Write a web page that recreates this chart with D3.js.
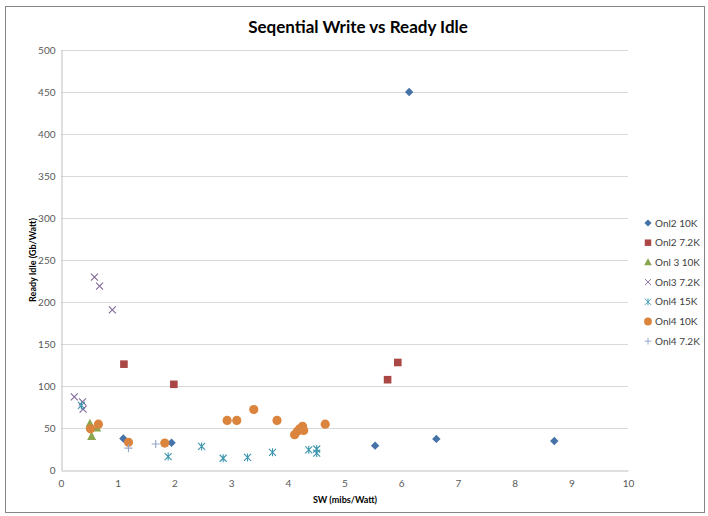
<!DOCTYPE html>
<html>
<head>
<meta charset="utf-8">
<script src="https://cdn.jsdelivr.net/npm/d3@7"></script>
<style>
  body { margin: 0; background: #fff; }
  text { font-family: Lato, "Open Sans", sans-serif; }
</style>
</head>
<body>
<div id="chart"></div>
<script>
// series values
var onl2_10k_x = [1.10, 1.95, 5.54, 6.14, 6.62, 8.70];
var onl2_10k_y = [37.5, 32.5, 29, 450, 37, 34.5];

var onl2_72k_x = [1.11, 1.99, 5.76, 5.94];
var onl2_72k_y = [126, 102, 107.5, 128];

var onl3_10k_x = [0.51, 0.54, 0.63];
var onl3_10k_y = [55, 40, 50];

var onl3_72k_x = [0.235, 0.38, 0.39, 0.59, 0.68, 0.905];
var onl3_72k_y = [87, 81, 72.5, 229.5, 219, 190.5];

var onl4_15k_x = [0.36, 1.89, 2.48, 2.86, 3.29, 3.73, 4.37, 4.51, 4.51];
var onl4_15k_y = [77, 16, 28, 14, 15, 21, 24, 25, 20];

var onl4_10k_x = [0.52, 0.66, 1.19, 1.83, 2.93, 3.10, 3.40, 3.81, 4.12, 4.17, 4.21, 4.26, 4.28, 4.66];
var onl4_10k_y = [49, 54.5, 33, 32, 59, 59, 72, 59, 42, 46, 49, 52, 47, 54.5];

var onl4_72k_x = [1.19, 1.67];
var onl4_72k_y = [26, 31];

var seriesNames = ["Onl2 10K", "Onl2 7.2K", "Onl 3 10K", "Onl3 7.2K", "Onl4 15K", "Onl4 10K", "Onl4 7.2K"];
var xTicks = [0, 1, 2, 3, 4, 5, 6, 7, 8, 9, 10];
var yTicks = [0, 50, 100, 150, 200, 250, 300, 350, 400, 450, 500];

var series = [
  {name: seriesNames[0], xs: onl2_10k_x, ys: onl2_10k_y, shape: "diamond", color: "#4572a7"},
  {name: seriesNames[1], xs: onl2_72k_x, ys: onl2_72k_y, shape: "square", color: "#aa4643"},
  {name: seriesNames[2], xs: onl3_10k_x, ys: onl3_10k_y, shape: "triangle", color: "#89a54e"},
  {name: seriesNames[3], xs: onl3_72k_x, ys: onl3_72k_y, shape: "x", color: "#80699b"},
  {name: seriesNames[4], xs: onl4_15k_x, ys: onl4_15k_y, shape: "star", color: "#3d96ae"},
  {name: seriesNames[5], xs: onl4_10k_x, ys: onl4_10k_y, shape: "circle", color: "#db843d"},
  {name: seriesNames[6], xs: onl4_72k_x, ys: onl4_72k_y, shape: "plus", color: "#92a8cd"}
];

var W = 708, H = 516;
var m = {left: 61, top: 50, right: 80, bottom: 46};

var svg = d3.select("#chart").append("svg")
    .attr("width", W)
    .attr("height", H);

// chart border
svg.append("rect")
    .attr("x", 5.5).attr("y", 6.5)
    .attr("width", 699).attr("height", 506)
    .attr("fill", "#fff")
    .attr("stroke", "#868686");

var x = d3.scaleLinear().domain([0, 10]).range([m.left, 628]);
var y = d3.scaleLinear().domain([0, 500]).range([470, m.top]);

// gridlines
svg.append("g")
    .selectAll("line")
    .data(yTicks.slice(1))
    .enter().append("line")
    .attr("x1", x(0)).attr("x2", x(10))
    .attr("y1", d => Math.round(y(d)) + 0.5)
    .attr("y2", d => Math.round(y(d)) + 0.5)
    .attr("stroke", "#d9d9d9");

var xAxis = svg.append("g")
    .attr("transform", "translate(0," + (Math.round(y(0)) + 0.5) + ")")
    .call(d3.axisBottom(x).tickValues(xTicks).tickSize(0).tickPadding(9));
var yAxis = svg.append("g")
    .attr("transform", "translate(" + (Math.round(x(0)) + 0.5) + ",0)")
    .call(d3.axisLeft(y).tickValues(yTicks).tickSize(0).tickPadding(6));

[xAxis, yAxis].forEach(function(a) {
  a.select(".domain").attr("stroke", "#bfbfbf");
  a.selectAll("text")
      .attr("fill", "#595959")
      .style("font-size", "10px")
      .style("font-family", "Lato, sans-serif");
});

// marker shapes
function markerPath(shape, s) {
  switch (shape) {
    case "diamond": return "M0," + (-s) + "L" + s + ",0L0," + s + "L" + (-s) + ",0Z";
    case "square": return "M" + (-s) + "," + (-s) + "H" + s + "V" + s + "H" + (-s) + "Z";
    case "triangle": return "M0," + (-s - 1) + "L" + (s + 0.5) + "," + (s - 0.5) + "L" + (-s - 0.5) + "," + (s - 0.5) + "Z";
    case "x": return "M" + (-s) + "," + (-s) + "L" + s + "," + s + "M" + s + "," + (-s) + "L" + (-s) + "," + s;
    case "star": return "M" + (-s) + "," + (-s) + "L" + s + "," + s + "M" + s + "," + (-s) + "L" + (-s) + "," + s + "M0," + (-s - 0.5) + "V" + (s + 0.5);
    case "plus": return "M" + (-s) + ",0H" + s + "M0," + (-s) + "V" + s;
  }
}

function drawMarker(g, shape, color) {
  if (shape === "circle") {
    g.append("circle").attr("r", 4.6).attr("fill", color);
  } else if (shape === "diamond") {
    g.append("path").attr("d", markerPath(shape, 4.2)).attr("fill", color);
  } else if (shape === "square") {
    g.append("path").attr("d", markerPath(shape, 3.8)).attr("fill", color);
  } else if (shape === "triangle") {
    g.append("path").attr("d", markerPath(shape, 4)).attr("fill", color);
  } else {
    g.append("path").attr("d", markerPath(shape, shape === "plus" ? 4 : 3.5))
        .attr("fill", "none").attr("stroke", color).attr("stroke-width", 1.1);
  }
}

var plot = svg.append("g");
series.forEach(function(s) {
  var pts = s.xs.map((v, i) => [v, s.ys[i]]);
  plot.selectAll(null)
      .data(pts)
      .enter().append("g")
      .attr("transform", d => "translate(" + x(d[0]) + "," + y(d[1]) + ")")
      .each(function() { drawMarker(d3.select(this), s.shape, s.color); });
});

// legend
var legend = svg.append("g").attr("transform", "translate(648,223)");
series.forEach(function(s, i) {
  var g = legend.append("g").attr("transform", "translate(0," + (i * 19.7) + ")");
  var mk = g.append("g");
  drawMarker(mk, s.shape, s.color);
  mk.attr("transform", "scale(0.85)");
  g.append("text")
      .attr("x", 7).attr("y", 3.5)
      .attr("fill", "#404040")
      .style("font-size", "10px")
      .text(s.name);
});

// titles
svg.append("text")
    .attr("x", 358).attr("y", 33)
    .attr("text-anchor", "middle")
    .style("font-size", "17px")
    .style("font-weight", "bold")
    .attr("fill", "#000")
    .text("Seqential Write vs Ready Idle");

svg.append("text")
    .attr("x", 345).attr("y", 503)
    .attr("text-anchor", "middle")
    .style("font-size", "9px")
    .style("font-weight", "bold")
    .attr("fill", "#000")
    .text("SW (mibs/Watt)");

svg.append("text")
    .attr("transform", "translate(36,260) rotate(-90)")
    .attr("text-anchor", "middle")
    .style("font-size", "9px")
    .style("font-weight", "bold")
    .attr("fill", "#000")
    .text("Ready Idle (Gb/Watt)");
</script>
</body>
</html>
